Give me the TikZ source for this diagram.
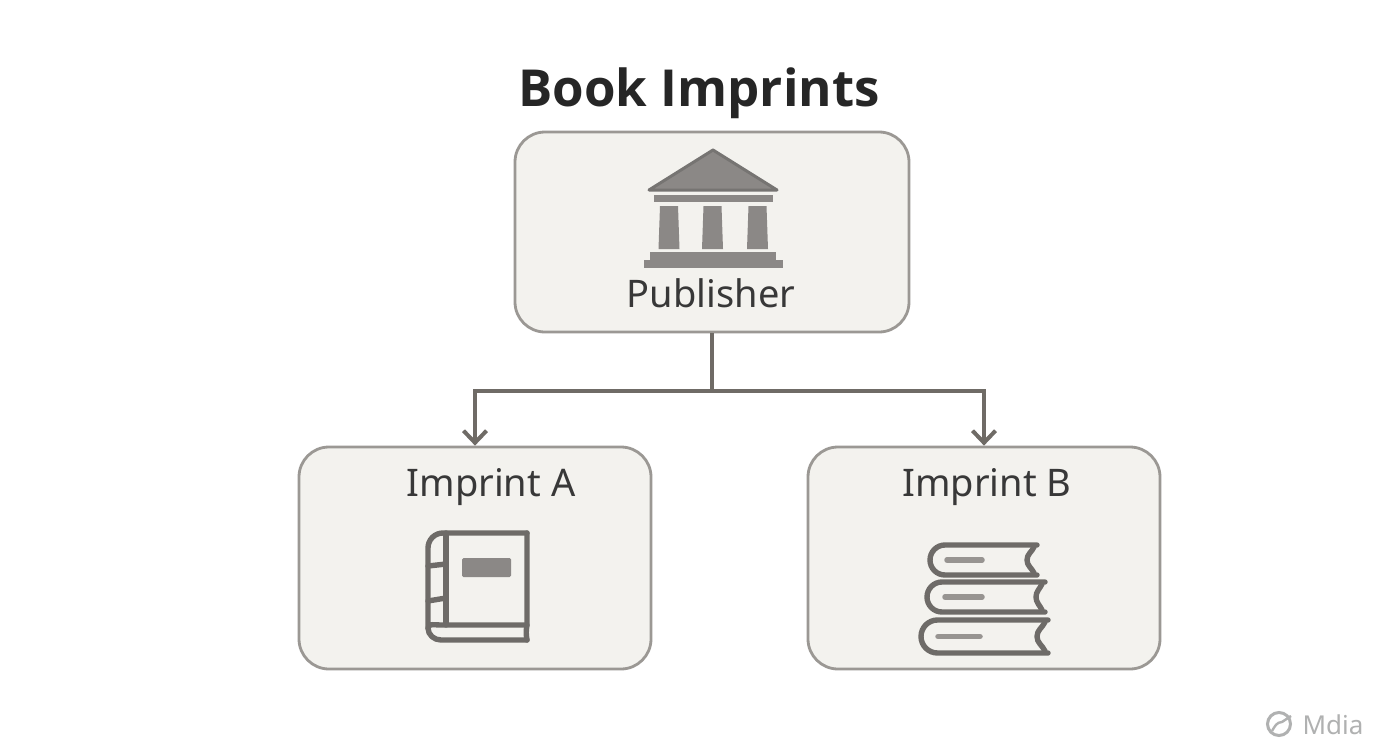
\documentclass[tikz,border=0pt]{standalone}
\usepackage{fontspec}
\setmainfont{Noto Sans}
\newfontfamily\titlefont{Open Sans}[BoldFont={Open Sans Bold}]
\usetikzlibrary{arrows.meta}
\definecolor{boxfill}{HTML}{F3F2EE}
\definecolor{boxedge}{HTML}{9B9894}
\definecolor{linkcol}{HTML}{6F6B66}
\definecolor{iconcol}{HTML}{8B8886}
\definecolor{inkcol}{HTML}{6E6B68}
\definecolor{barcol}{HTML}{979491}
\definecolor{markcol}{HTML}{B0B1B1}
\tikzset{
	imprintbox/.style={draw=boxedge,fill=boxfill,line width=2.8pt,rounded corners=30pt,inner sep=0pt},
	boxlabel/.style={text=black!78,font=\fontsize{38}{38}\selectfont,inner sep=0pt},
	link/.style={draw=linkcol,line width=4pt},
	inkline/.style={draw=inkcol,line width=5.4pt,line cap=round,line join=round},
	barline/.style={draw=barcol,line width=5.5pt,line cap=round}
}

\begin{document}
\begin{tikzpicture}[x=1pt,y=-1pt]
\useasboundingbox[fill=white] (0,0) rectangle (1392,752);

\node[text=black!85,font=\titlefont\fontsize{51}{51}\selectfont\bfseries,inner sep=0pt] (title) at (699,93) {Book Imprints};
\node[imprintbox,minimum width=394pt,minimum height=200pt] (publisher) at (712,232) {};
\node[imprintbox,minimum width=352pt,minimum height=222pt] (imprint-a) at (475,558) {};
\node[imprintbox,minimum width=352pt,minimum height=222pt] (imprint-b) at (984,558) {};
\node[boxlabel] (publisher-label) at (711,293.5) {Publisher};
\node[boxlabel] (imprint-a-label) at (491,487.5) {Imprint A};
\node[boxlabel] (imprint-b-label) at (987,487.5) {Imprint B};

% connectors
\coordinate (fork) at (publisher.south |- 0,391);
\coordinate (fork-a) at (imprint-a.north |- fork);
\coordinate (fork-b) at (imprint-b.north |- fork);
\draw[link] (publisher.south) -- (fork);
\draw[link] ([xshift=-2pt]fork-a) -- ([xshift=2pt]fork-b);
\draw[link,-{Straight Barb[length=12pt,width=23pt,line width=4pt]}] (fork-a) -- (imprint-a.north);
\draw[link,-{Straight Barb[length=12pt,width=23pt,line width=4pt]}] (fork-b) -- (imprint-b.north);

% temple
\fill[iconcol,draw=iconcol!85!black,line width=3pt,line join=round] (713,150) -- (777,190) -- (649,190) -- cycle;
\fill[iconcol] (654,195) rectangle (773,202);
\foreach \x in {669,712.5,757.5}
	\fill[iconcol] (\x-9,206) -- (\x+9,206) -- (\x+10.5,249) -- (\x-10.5,249) -- cycle;
\fill[iconcol] (650,252) rectangle (776,260);
\fill[iconcol] (644,260) rectangle (783,268);

% single book
\draw[inkline] (527,533) -- (443,533) to[out=180,in=90] (428,548) -- (428,628) to[out=90,in=180] (440,625) -- (527,625);
\draw[inkline] (428,628) to[out=-90,in=180] (441,640) -- (527,640);
\draw[inkline] (527,533) -- (527,625) to[out=-100,in=100] (527,640);
\draw[inkline] (446,533) -- (446,625);
\draw[inkline] (428,566) -- (446,564);
\draw[inkline] (428,601) -- (446,598);
\fill[iconcol,rounded corners=1.5pt] (462,558) rectangle (511,577);

% stack of books
\foreach \l/\t/\b/\r/\c/\s/\e in {930/545/575/1037/1027/947/982,927/582/612/1045/1036/945/982,921/620/653/1048/1037/938/980} {
	\draw[inkcol,line width=5.4pt,line cap=round] (\r,\t) -- ({\l+(\b-\t)/2},\t) arc[start angle=-90,end angle=-270,radius={(\b-\t)/2}] -- (\r,\b);
	\draw[inkline] (\r-3,\t+2) to[out=-115,in=90] (\c,{(\t+\b)/2}) to[out=-90,in=115] (\r-3,\b-2);
	\draw[barline] (\s,{(\t+\b)/2}) -- (\e,{(\t+\b)/2});
}

% corner mark
\draw[markcol,line width=3pt] (1279,724) circle[radius=11.5pt];
\draw[markcol,line width=2.4pt] (1272,731) to[out=60,in=180] (1282,722) -- (1291,716);
\node[text=markcol,font=\fontsize{26}{26}\selectfont,inner sep=0pt] (mark) at (1333,725) {Mdia};
\end{tikzpicture}
\end{document}
